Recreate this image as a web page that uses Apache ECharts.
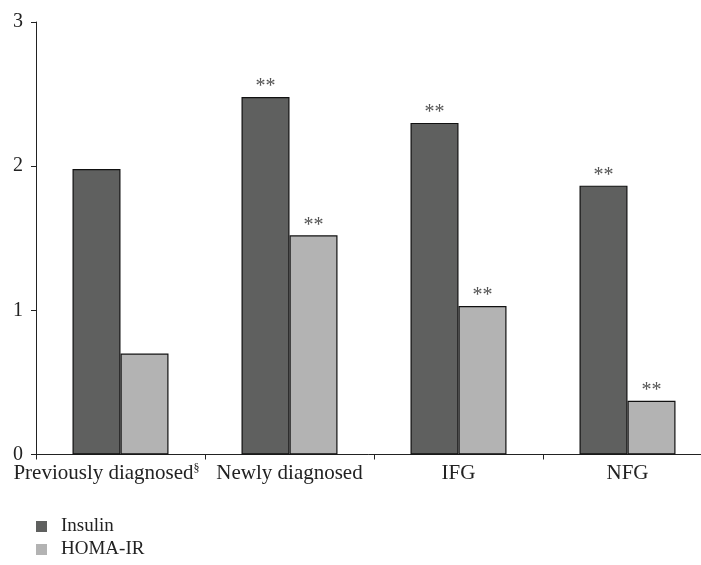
<!DOCTYPE html>
<html>
<head>
<meta charset="utf-8">
<script src="https://cdn.jsdelivr.net/npm/echarts@6/dist/echarts.min.js"></script>
<style>html,body{margin:0;padding:0;background:#fff;}#c{width:701px;height:565px;}</style>
</head>
<body>
<div id="c"></div>
<script>
const categories = ['Previously diagnosed', 'Newly diagnosed', 'IFG', 'NFG'];
const insulin = [1.98, 2.48, 2.30, 1.865];
const homaIR = [0.70, 1.52, 1.03, 0.372];
const insulinMarks = ['', '**', '**', '**'];
const homaMarks = ['', '**', '**', '**'];
const yTicks = [0, 1, 2, 3];

const FONT = '"Liberation Serif", "DejaVu Serif", serif';
const chart = echarts.init(document.getElementById('c'));
chart.setOption({
  animation: false,
  textStyle: { fontFamily: FONT },
  grid: { left: 36, top: 22, width: 676, height: 432.5, outerBoundsMode: 'none', containLabel: false },
  legend: {
    orient: 'vertical', left: 31, top: 512, height: 60,
    itemWidth: 11, itemHeight: 11, itemGap: 4,
    icon: 'rect',
    itemStyle: { borderWidth: 0 },
    textStyle: { fontFamily: FONT, fontSize: 19, lineHeight: 18, color: '#222', padding: [0, 0, 0, 9] },
    data: ['Insulin', 'HOMA-IR']
  },
  xAxis: {
    type: 'category', data: categories,
    axisLine: { lineStyle: { color: '#222', width: 1 } },
    axisTick: { show: true, interval: 0, length: 5, lineStyle: { color: '#222' } },
    axisLabel: {
      interval: 0, margin: 8, fontSize: 21, color: '#222', fontFamily: FONT,
      formatter: function (v, i) { return i === 0 ? v + '{sup|§}{pad|}' : v; },
      rich: { sup: { fontSize: 12, verticalAlign: 'top', padding: [0, 0, 10, 0], color: '#222', fontFamily: FONT }, pad: { width: 28 } }
    }
  },
  yAxis: {
    type: 'value', min: 0, max: 3, interval: 1,
    splitLine: { show: false },
    axisLine: { show: true, lineStyle: { color: '#222', width: 1 } },
    axisTick: { show: true, length: 5, lineStyle: { color: '#222' } },
    axisLabel: { margin: 13, fontSize: 20, color: '#222', fontFamily: FONT,
      formatter: function (v) { return yTicks.indexOf(v) >= 0 ? String(v) : ''; } }
  },
  series: [
    {
      name: 'Insulin', type: 'bar', data: insulin, barWidth: 48, barGap: '0%',
      itemStyle: { color: '#5f605f', borderColor: '#111', borderWidth: 1.2 },
      label: { show: true, position: 'top', distance: 0, fontSize: 20, color: '#555', fontFamily: FONT,
        formatter: function (p) { return insulinMarks[p.dataIndex]; } }
    },
    {
      name: 'HOMA-IR', type: 'bar', data: homaIR, barWidth: 48, barGap: '0%',
      itemStyle: { color: '#b3b3b3', borderColor: '#111', borderWidth: 1.2 },
      label: { show: true, position: 'top', distance: 0, fontSize: 20, color: '#555', fontFamily: FONT,
        formatter: function (p) { return homaMarks[p.dataIndex]; } }
    }
  ]
});
</script>
</body>
</html>
